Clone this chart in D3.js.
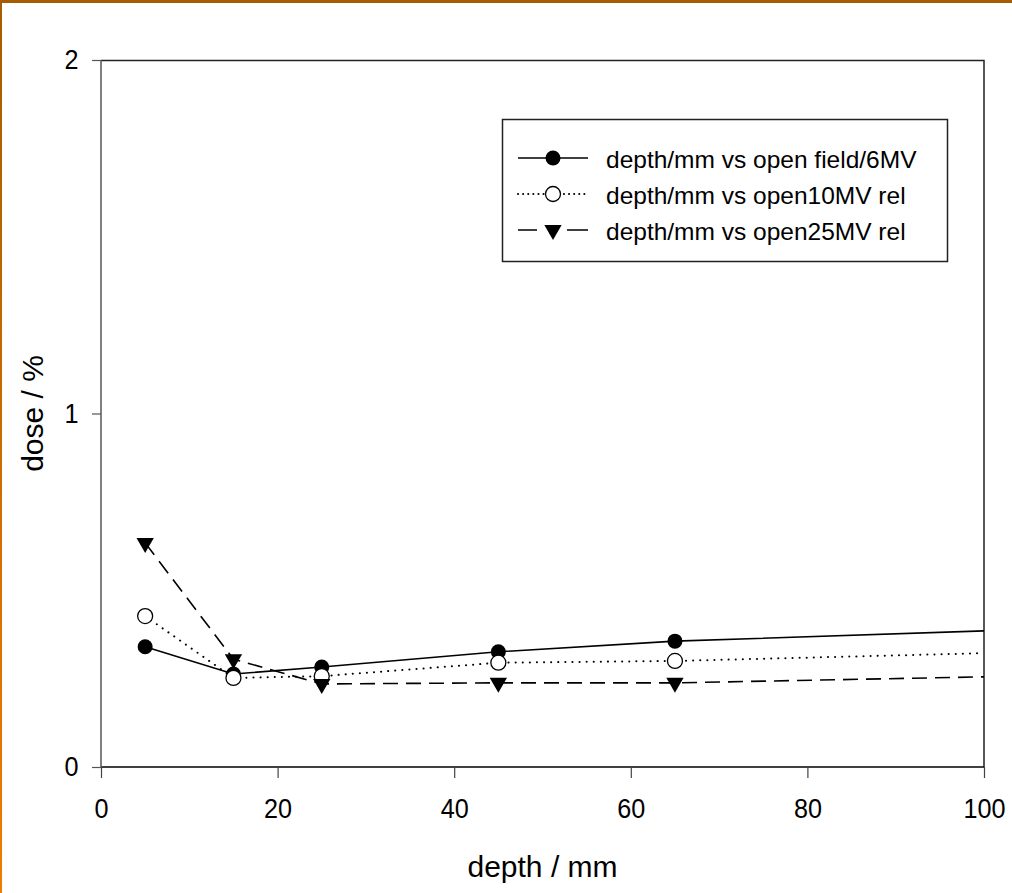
<!DOCTYPE html>
<html>
<head>
<meta charset="utf-8">
<script src="https://cdn.jsdelivr.net/npm/d3@7/dist/d3.min.js"></script>
<style>
  body { margin: 0; background: #fff; }
  svg { display: block; }
  text { font-family: "Liberation Sans", Arial, sans-serif; fill: #000; }
</style>
</head>
<body>
<div id="chart-area"></div>
<script>
// data
var depth = [5, 15, 25, 45, 65, 100];
var open6MV = [0.34, 0.263, 0.283, 0.326, 0.356, 0.385];
var open10MV = [0.427, 0.252, 0.257, 0.295, 0.300, 0.322];
var open25MV = [0.634, 0.305, 0.235, 0.238, 0.238, 0.255];
var seriesNames = ["depth/mm vs open field/6MV", "depth/mm vs open10MV rel", "depth/mm vs open25MV rel"];
var xTicks = [0, 20, 40, 60, 80, 100];
var yTicks = [0, 1, 2];

var W = 1012, H = 893;
var margin = {top: 60, right: 28, bottom: 126, left: 101};
var width = W - margin.left - margin.right;
var height = H - margin.top - margin.bottom;

var svg = d3.select("#chart-area")
  .append("svg")
    .attr("width", W)
    .attr("height", H);

// page border (brown top, orange fading left)
var grad = svg.append("defs").append("linearGradient")
  .attr("id", "leftEdge").attr("x1", 0).attr("y1", 0).attr("x2", 0).attr("y2", 1);
grad.append("stop").attr("offset", "0%").attr("stop-color", "#a65c00");
grad.append("stop").attr("offset", "100%").attr("stop-color", "#f07c00");
svg.append("rect").attr("x", 0).attr("y", 0).attr("width", 2).attr("height", H).attr("fill", "url(#leftEdge)");
svg.append("rect").attr("x", 0).attr("y", 0).attr("width", W).attr("height", 3).attr("fill", "#a65c00");

var g = svg.append("g")
  .attr("transform", "translate(" + margin.left + ", " + margin.top + ")");

var x = d3.scaleLinear().domain([0, 100]).range([0, width]);
var y = d3.scaleLinear().domain([0, 2]).range([height, 0]);

// frame top/right
g.append("path")
  .attr("d", "M0,0.5H" + width + "V" + height)
  .attr("fill", "none")
  .attr("stroke", "#222")
  .attr("stroke-width", 1.5);

var xAxisCall = d3.axisBottom(x).tickValues(xTicks).tickSize(11).tickPadding(20).tickFormat(d3.format("d"));
var yAxisCall = d3.axisLeft(y).tickValues(yTicks).tickSize(9).tickPadding(16).tickFormat(d3.format("d"));

var xAxisGroup = g.append("g").attr("class", "x axis")
  .attr("transform", "translate(0, " + height + ")")
  .call(xAxisCall);
var yAxisGroup = g.append("g").attr("class", "y axis").call(yAxisCall);

// tick labels are a little condensed in the original
[xAxisGroup, yAxisGroup].forEach(function(ax) {
  ax.attr("font-size", 28);
  ax.selectAll("text")
    .style("font-size", "28px")
    .attr("transform", "scale(0.9,1)");
  ax.select(".domain").attr("stroke-width", 1.5);
  ax.selectAll(".tick line").attr("stroke-width", 1.2);
});
xAxisGroup.select(".domain").attr("stroke", "#000").attr("d", "M0,0H" + width);
yAxisGroup.select(".domain").attr("stroke", "#555").attr("d", "M0," + height + "V0");
yAxisGroup.selectAll(".tick line").attr("stroke", "#555");
xAxisGroup.selectAll(".tick line").attr("stroke", "#444");

// axis titles
g.append("text")
  .attr("x", width / 2)
  .attr("y", height + 110)
  .attr("font-size", "30px")
  .attr("text-anchor", "middle")
  .text("depth / mm");

g.append("text")
  .attr("transform", "rotate(-90)")
  .attr("x", -(height / 2))
  .attr("y", -58)
  .attr("font-size", "30px")
  .attr("text-anchor", "middle")
  .text("dose / %");

var series = [
  {name: seriesNames[0], values: open6MV, marker: "fill"},
  {name: seriesNames[1], values: open10MV, marker: "open"},
  {name: seriesNames[2], values: open25MV, marker: "tri"}
];

var line = d3.line()
  .x(function(d) { return x(d.x); })
  .y(function(d) { return y(d.y); });

var triangle = d3.symbol().type(d3.symbolTriangle).size(130);

function drawMarker(sel, kind) {
  if (kind === "fill") {
    sel.append("circle").attr("r", 7.5).attr("fill", "#000");
  } else if (kind === "open") {
    sel.append("circle").attr("r", 7.5).attr("fill", "#fff").attr("stroke", "#000").attr("stroke-width", 1.3);
  } else {
    sel.append("path").attr("d", triangle).attr("transform", "rotate(180)").attr("fill", "#000");
  }
}

function styleLine(sel, kind, inLegend) {
  var dash = null;
  if (kind === "open") dash = inLegend ? "0.1,5" : "0.1,7";
  if (kind === "tri") dash = inLegend ? "19,30,21" : "15,8";
  sel.attr("fill", "none")
    .attr("stroke", "#000")
    .attr("stroke-width", kind === "open" ? 2 : 1.6)
    .attr("stroke-linecap", kind === "open" ? "round" : "butt")
    .attr("stroke-dasharray", dash);
}

series.forEach(function(s) {
  var pts = depth.map(function(d, i) { return {x: d, y: s.values[i]}; });
  g.append("path")
    .datum(pts)
    .attr("d", line)
    .call(styleLine, s.marker, false);
});

series.forEach(function(s) {
  var pts = depth.map(function(d, i) { return {x: d, y: s.values[i]}; })
    .filter(function(p) { return p.x < 100; });
  pts.forEach(function(p) {
    var m = g.append("g").attr("transform", "translate(" + x(p.x) + "," + y(p.y) + ")");
    drawMarker(m, s.marker);
  });
});

// legend
var legend = svg.append("g").attr("transform", "translate(502, 119)");
legend.append("rect")
  .attr("x", 0.5).attr("y", 0.5)
  .attr("width", 445).attr("height", 142)
  .attr("fill", "#fff")
  .attr("stroke", "#222")
  .attr("stroke-width", 1.5);

series.forEach(function(s, i) {
  var row = legend.append("g").attr("transform", "translate(0, " + (39 + i * 36) + ")");
  row.append("line")
    .attr("x1", 16).attr("x2", 86)
    .call(styleLine, s.marker, true);
  var m = row.append("g").attr("transform", "translate(51, 0)");
  drawMarker(m, s.marker);
  row.append("text")
    .attr("x", 104)
    .attr("y", 10)
    .attr("font-size", "24.5px")
    .text(s.name);
});
</script>
</body>
</html>
